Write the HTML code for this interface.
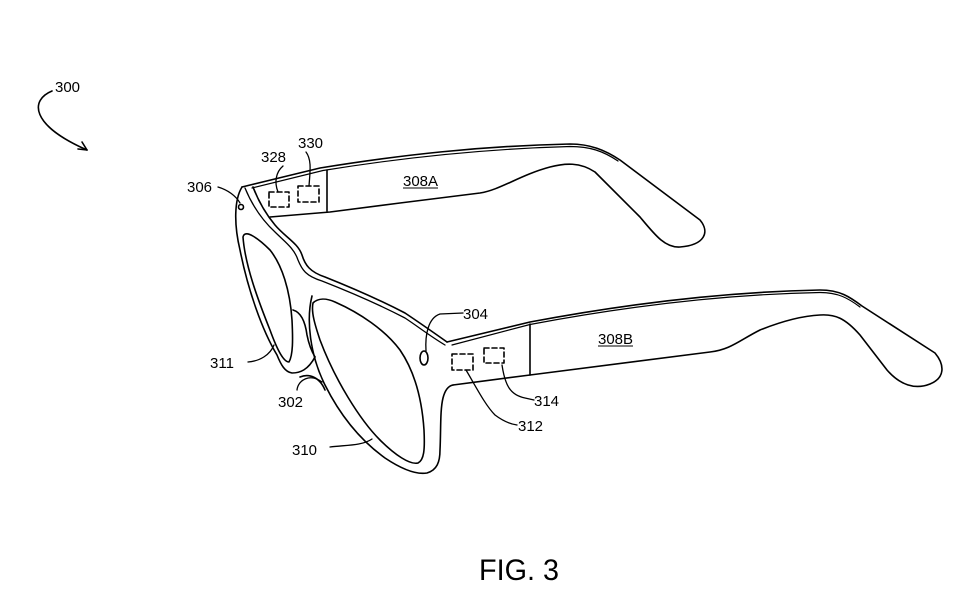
<!DOCTYPE html>
<html><head><style>
html,body{margin:0;padding:0;background:#fff;}
svg{display:block;}
text{font-family:"Liberation Sans",sans-serif;font-size:15px;fill:#000;}
</style></head><body>
<svg width="964" height="610" viewBox="0 0 964 610" xmlns="http://www.w3.org/2000/svg">
<g fill="none" stroke="#000" stroke-width="1.6" stroke-linejoin="round" stroke-linecap="round">
<!-- 300 arrow -->
<path d="M52 91 C30 100,30 125,87 150"/>
<path d="M78 149 L87 150 L82 142"/>
<!-- temple 308A -->
<path d="M242 187 L320 168 C400 155,480 146,570 144 C590 144,605 150,620 160 L700 220 C710 232,705 245,680 247 C665 248,655 235,640 217 L595 172 C580 162,565 163,550 167 C520 175,500 190,480 193 L400 203 L330 212 L270 217"/>
<path d="M252 188 L323 170.5 C400 158,480 149,570 146.5 C590 146.5,603 151,618 161" stroke-width="1.2"/>
<path d="M327 170 L327 211"/>
<!-- temple 308B -->
<path d="M447 342 L530 322 C620 305,720 292,820 290 C840 290,850 297,862 306 L935 353 C945 365,945 378,930 384 C915 390,900 385,887 370 L860 335 C845 318,835 314,820 315 C800 316,780 322,760 330 C740 340,730 350,710 352 L530 375 L453 385"/>
<path d="M452 345 L530 324.5 C620 307.5,720 294.5,820 292.5 C838 292.5,848 298,860 307" stroke-width="1.2"/>
<path d="M530 324 L530 375"/>
<!-- front outline -->
<path d="M242 187 C234 200,234 225,240 250 C248 290,262 330,277 355 C281 365,285 372,292 373 C300 373,308 370,315 357"/>
<path d="M253 187 C258 200,265 213,275 225 C285 237,298 243,302 255 C305 265,310 272,325 277 C350 287,380 300,405 313 C420 323,430 330,447 342"/>
<path d="M245 188 C252 205,262 220,275 232 C285 242,294 248,298 260 C302 270,306 276,322 281 C350 292,380 305,405 318 C420 328,430 336,445 345" stroke-width="1.3"/>
<!-- left lens -->
<path d="M243 237 C245 228,260 240,270 250 C282 265,290 290,292 320 C293 340,293 355,289 362 C284 362,278 352,270 330 C258 300,245 265,243 237 Z"/>
<!-- nose piece 302 -->
<path d="M293 310 C300 312,305 320,307 335 C309 345,312 352,315 357"/>
<path d="M300 377 C310 373,320 378,325 390"/>
<!-- right lens frame outer -->
<path d="M312 296 C306 320,310 355,325 385 C340 415,360 440,385 458 C400 468,415 475,427 473 C437 470,440 462,440 450 C441 430,440 410,443 398 C445 390,448 386,453 385"/>
<!-- right lens -->
<path d="M313 303 C318 298,326 298,335 302 C360 313,385 330,400 350 C415 372,422 400,424 430 C425 450,424 460,418 463 C410 465,395 455,380 440 C360 420,335 380,320 340 C315 325,311 312,313 303 Z"/>
<!-- sensors -->
<circle cx="241" cy="207" r="2.5"/>
<ellipse cx="424" cy="358" rx="4" ry="7"/>
<g stroke-dasharray="5 3">
<rect x="269" y="192" width="20" height="15"/>
<rect x="298" y="186" width="21" height="16"/>
<rect x="452" y="354" width="21" height="16"/>
<rect x="484" y="348" width="20" height="15"/>
</g>
<!-- leaders -->
<path d="M218 187 C228 190,236 196,240 203" stroke-width="1.3"/>
<path d="M283 166 C276 172,274 182,278 192" stroke-width="1.3"/>
<path d="M306 152 C312 160,310 172,309 186" stroke-width="1.3"/>
<path d="M426 351 C425 335,428 318,440 314 L463 313" stroke-width="1.3"/>
<path d="M248 362 C260 361,270 355,274 345" stroke-width="1.3"/>
<path d="M297 390 C298 380,310 373,322 382" stroke-width="1.3"/>
<path d="M330 447 C345 445,362 446,372 439" stroke-width="1.3"/>
<path d="M466 370 C475 385,485 405,495 415 C503 421,510 424,517 425" stroke-width="1.3"/>
<path d="M502 365 C505 385,510 395,525 398 L534 400" stroke-width="1.3"/>
</g>
<text x="55" y="92">300</text>
<text x="187" y="192">306</text>
<text x="261" y="162">328</text>
<text x="298" y="148">330</text>
<text x="403" y="186">308A</text>
<line x1="403" y1="188" x2="438" y2="188" stroke="#000" stroke-width="1"/>
<text x="463" y="319">304</text>
<text x="598" y="344">308B</text>
<line x1="598" y1="346" x2="633" y2="346" stroke="#000" stroke-width="1"/>
<text x="210" y="368">311</text>
<text x="278" y="407">302</text>
<text x="292" y="455">310</text>
<text x="534" y="406">314</text>
<text x="518" y="431">312</text>
<text x="479" y="580" style="font-size:30px" textLength="80" lengthAdjust="spacingAndGlyphs">FIG. 3</text>
</svg>
</body></html>
